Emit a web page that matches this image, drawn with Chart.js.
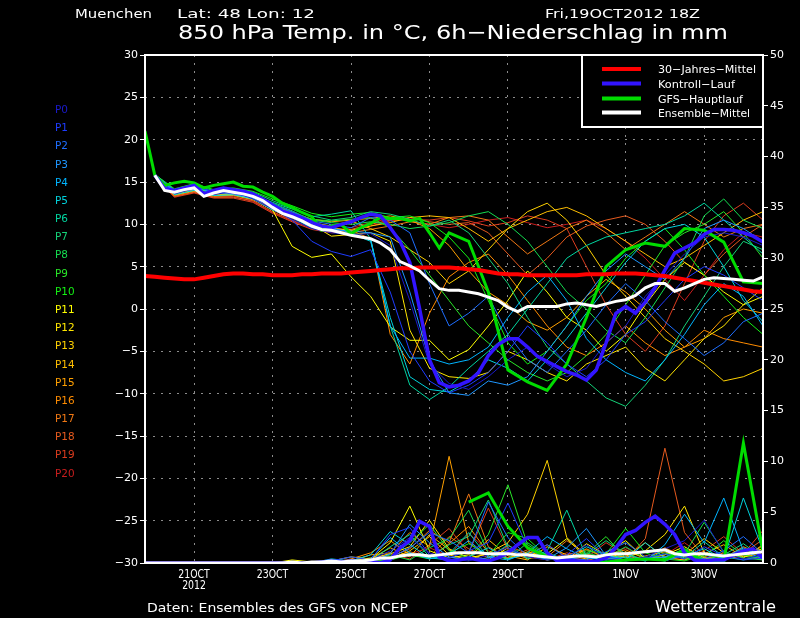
<!DOCTYPE html>
<html>
<head>
<meta charset="utf-8">
<script src="https://cdn.jsdelivr.net/npm/chart.js@4.4.1/dist/chart.umd.min.js"></script>
<style>
  html, body { margin: 0; padding: 0; background: #000; overflow: hidden; }
  canvas { display: block; }
</style>
</head>
<body>
<canvas id="chart" width="800" height="618"></canvas>
<script>
// forecast hours from 19OCT2012 18Z, 6-hourly
const hours = [0, 6, 12, 18, 24, 30, 36, 42, 48, 54, 60, 66, 72, 78, 84, 90,
  96, 102, 108, 114, 120, 126, 132, 138, 144, 150, 156, 162, 168, 174, 180, 186,
  192, 198, 204, 210, 216, 222, 228, 234, 240, 246, 252, 258, 264, 270, 276, 282,
  288, 294, 300, 306, 312, 318, 324, 330, 336, 342, 348, 354, 360, 366, 372, 378];
const memberHours = [6, 18, 30, 42, 54, 66, 78, 90, 102, 114, 126, 138, 150, 162, 174, 186,
  198, 210, 222, 234, 246, 258, 270, 282, 294, 306, 318, 330, 342, 354, 366, 378];

const xTickHours = [30, 78, 126, 174, 222, 294, 342];
const xTickLabels = [['21OCT', '2012'], ['23OCT'], ['25OCT'], ['27OCT'], ['29OCT'], ['1NOV'], ['3NOV']];

// 850 hPa temperature, deg C
const climMean = [3.9, 3.8, 3.7, 3.6, 3.5, 3.5, 3.7, 3.9,
  4.1, 4.2, 4.2, 4.1, 4.1, 4.0, 4.0, 4.0,
  4.1, 4.1, 4.2, 4.2, 4.2, 4.3, 4.4, 4.5,
  4.6, 4.7, 4.8, 4.8, 4.9, 4.9, 4.9, 4.9,
  4.8, 4.7, 4.6, 4.4, 4.2, 4.1, 4.1, 4.0,
  4.0, 4.0, 4.0, 4.0, 4.0, 4.1, 4.1, 4.1,
  4.2, 4.2, 4.2, 4.1, 4.0, 3.9, 3.7, 3.5,
  3.3, 3.1, 2.9, 2.7, 2.5, 2.3, 2.1, 2.0];
const ensMeanTemp = [null, 15.8, 14.0, 13.8, 14.1, 14.3, 13.3, 13.7,
  14.0, 13.8, 13.6, 13.3, 12.8, 12.0, 11.3, 10.9,
  10.4, 9.8, 9.4, 9.3, 9.0, 8.7, 8.5, 8.3,
  7.8, 7.0, 5.6, 5.1, 4.5, 3.4, 2.4, 2.2,
  2.2, 2.0, 1.8, 1.4, 1.0, 0.2, -0.3, 0.3,
  0.3, 0.3, 0.3, 0.6, 0.7, 0.5, 0.3, 0.6,
  0.9, 1.1, 1.6, 2.5, 3.0, 3.0, 2.1, 2.5,
  3.0, 3.5, 3.7, 3.6, 3.5, 3.4, 3.3, 3.8];
const controlTemp = [null, 15.8, 14.2, 14.0, 14.3, 14.6, 13.6, 14.0,
  14.3, 14.1, 13.9, 13.6, 13.0, 12.3, 11.6, 11.2,
  10.8, 10.2, 9.8, 9.6, 10.0, 10.3, 10.8, 11.2,
  11.0, 9.6, 8.0, 5.5, 0.0, -6.0, -8.7, -9.2,
  -9.0, -8.5, -7.5, -5.5, -4.2, -3.5, -3.5, -4.5,
  -5.6, -6.2, -6.8, -7.4, -7.8, -8.4, -7.2, -4.0,
  -0.5, 0.3, -0.5, 0.8, 2.5, 4.6, 6.6, 7.2,
  7.8, 8.8, 9.4, 9.4, 9.3, 9.0, 8.6, 7.9];
const gfsTemp = [21.0, 15.8, 14.6, 14.9, 15.1, 14.9, 14.3, 14.6,
  14.8, 15.0, 14.5, 14.4, 13.8, 13.3, 12.5, 12.0,
  11.4, 10.9, 9.3, 9.8, 10.0, 8.9, 9.6, 10.1,
  10.8, 10.7, 10.7, 10.4, 10.7, 9.0, 7.2, 9.0,
  null, 8.0, null, 2.0, null, -7.2, null, -8.6,
  null, -9.6, null, -6.5, null, -1.0, null, 5.0,
  null, 7.0, null, 7.8, null, 7.4, null, 9.5,
  null, 9.3, null, 7.9, null, 3.2, null, 3.0];

// 6h precipitation, mm
const ensMeanPrecip = [0, 0, 0, 0, 0, 0, 0, 0,
  0, 0, 0, 0, 0, 0, 0, 0.1,
  0, 0.1, 0.1, 0.2, 0.1, 0.2, 0.2, 0.3,
  0.5, 0.5, 0.7, 0.8, 0.8, 0.7, 0.8, 0.9,
  1.0, 1.0, 1.0, 0.9, 0.9, 0.9, 0.8, 0.8,
  0.7, 0.6, 0.5, 0.6, 0.7, 0.7, 0.6, 0.8,
  0.9, 0.9, 1.0, 1.1, 1.2, 1.3, 0.9, 0.8,
  0.9, 0.9, 0.8, 0.7, 0.8, 0.9, 1.0, 1.1];
const controlPrecip = [0, 0, 0, 0, 0, 0, 0, 0,
  0, 0, 0, 0, 0, 0, 0, 0,
  0, 0, 0.1, 0.2, 0.1, 0.2, 0.1, 0.1,
  0, 0.3, 1.5, 2.2, 4.1, 3.6, 0.6, 0.2,
  0.3, 0.5, 0.3, 0.2, 0.5, 1.0, 1.8, 2.5,
  2.5, 1.0, 0.2, 0.3, 0.2, 0.1, 0.2, 0.5,
  1.5, 2.8, 3.2, 4.0, 4.6, 3.8, 2.8, 1.0,
  0.3, 0.2, 0.3, 0.3, 0.8, 1.2, 1.4, 0.5];
const gfsPrecip = [null, null, null, null, null, null, null, null,
  null, null, null, null, null, null, null, null,
  null, null, null, null, null, null, null, null,
  null, null, null, null, null, null, null, null,
  null, 6.0, null, 6.9, null, 3.6, null, 1.5,
  null, 0.6, null, 0.1, null, 0.0, null, 0.1,
  null, 0.3, null, 0.4, null, 0.3, null, 1.3,
  null, 0.1, null, 0.1, null, 11.8, null, 1.1];

// ensemble members P0..P20, temperature
const tempP0 = [15.6, 13.6, 14.2, 13.5, 13.9, 13.0, 11.8, 10.6, 9.5, 9.0, 8.8, 8.9, 7.5, 1.0, -6.5, -8.8,
  -9.5, -8.0, -6.0, -4.5, -6.5, -8.0, -7.0, -4.0, -2.0, 1.5, 4.0, 6.5, 8.5, 9.0, 8.5, 7.5];
const tempP1 = [15.9, 13.7, 14.4, 13.9, 13.6, 13.2, 11.9, 10.5, 8.0, 6.8, 6.2, 7.0, 2.0, -5.0, -8.5, -9.9,
  -9.0, -7.5, -5.0, -2.0, -4.0, -6.5, -8.0, -6.0, -3.0, -1.5, 1.0, 3.5, 5.0, 4.0, 2.5, 1.0];
const tempP2 = [15.8, 14.0, 14.6, 13.8, 14.0, 13.6, 12.4, 11.5, 10.4, 10.0, 9.6, 10.8, 10.5, 9.0, 3.0, -2.0,
  -0.5, 1.5, -3.0, -6.0, -7.5, -5.0, -2.5, 0.5, 3.0, 1.0, -1.5, -3.5, -5.5, -4.0, -1.5, -0.5];
const tempP3 = [15.7, 13.9, 14.1, 13.6, 13.8, 13.4, 12.1, 11.0, 9.9, 9.4, 9.2, 9.0, 8.5, 2.0, -6.0, -9.9,
  -10.2, -8.5, -9.0, -8.0, -5.0, -2.0, 1.5, 4.5, 6.5, 5.0, 3.5, 6.0, 9.5, 10.5, 9.5, 8.0];
const tempP4 = [15.9, 13.8, 14.5, 13.7, 13.7, 13.1, 12.2, 11.2, 10.2, 9.6, 9.0, 8.2, -2.0, -5.8, -5.8, -6.5,
  -6.0, -4.5, -1.0, 2.0, 4.0, 1.0, -3.5, -6.0, -7.5, -8.5, -6.0, -3.0, 0.5, 3.0, 1.5, -2.0];
const tempP5 = [15.8, 13.5, 14.0, 13.4, 13.5, 13.0, 11.7, 10.8, 9.6, 9.2, 8.9, 8.0, -1.0, -8.0, -9.5, -9.8,
  -8.5, -6.0, -7.0, -8.5, -6.0, -3.5, -0.5, 2.5, 5.5, 8.0, 9.5, 10.0, 8.5, 5.0, 1.0, -1.5];
const tempP6 = [15.7, 13.6, 14.3, 13.6, 13.9, 13.5, 12.6, 11.8, 10.9, 11.2, 11.6, 8.3, -2.0, -9.0, -10.7, -9.2,
  -7.0, -5.0, -3.0, 0.0, 3.0, 6.0, 7.5, 8.5, 9.0, 9.5, 10.0, 11.0, 12.5, 10.5, 8.5, 6.5];
const tempP7 = [15.9, 14.1, 14.6, 14.0, 14.2, 13.8, 12.8, 11.9, 11.0, 10.5, 10.8, 11.5, 11.2, 10.6, 9.8, 10.5,
  9.0, 6.0, 3.0, -1.0, -4.5, -6.5, -8.5, -10.5, -11.5, -9.0, -6.0, -2.0, 1.5, 5.0, 8.0, 7.0];
const tempP8 = [15.8, 13.9, 14.4, 13.8, 14.0, 13.5, 12.5, 11.6, 10.5, 10.2, 10.0, 10.3, 10.0, 9.5, 9.8, 10.2,
  11.0, 11.5, 10.0, 8.0, 5.0, 2.0, 0.0, -2.5, -4.0, -1.0, 2.5, 6.0, 11.0, 13.0, 10.5, 9.5];
const tempP9 = [15.9, 14.0, 14.3, 13.9, 14.1, 13.6, 12.3, 11.4, 10.6, 10.4, 10.6, 10.8, 9.6, 7.0, 4.0, 1.0,
  -2.0, -4.0, -6.0, -7.5, -8.5, -7.5, -5.5, -3.0, 0.5, 4.0, 7.5, 9.0, 10.0, 11.5, 9.0, 6.0];
const tempP10 = [15.9, 14.2, 14.8, 14.1, 14.3, 13.9, 13.0, 12.2, 11.3, 10.9, 11.2, 11.4, 10.8, 11.0, 10.2, 8.5,
  6.0, 1.0, -4.0, -6.5, -5.0, -2.0, 1.0, 3.0, 6.0, 8.0, 9.5, 7.0, 4.0, 1.5, -1.0, -3.0];
const tempP11 = [15.6, 13.5, 14.0, 13.4, 13.5, 13.0, 11.7, 7.4, 6.1, 6.5, 3.8, 1.5, -2.1, -3.7, -3.7, -6.0,
  -4.8, -2.0, 1.0, 4.5, 2.0, -1.0, -2.5, -5.0, -3.0, 0.5, 3.5, 5.5, 4.0, 2.0, 0.5, 1.5];
const tempP12 = [15.7, 13.7, 14.2, 13.6, 13.6, 13.2, 12.0, 11.2, 10.0, 8.6, 8.8, 9.0, 8.0, -2.5, -7.0, -8.0,
  -8.2, -7.5, -5.0, -6.0, -7.5, -8.5, -6.5, -5.5, -4.5, -7.0, -8.5, -6.0, -3.5, -2.0, 0.5, 2.5];
const tempP13 = [15.8, 13.8, 14.4, 13.7, 13.8, 13.4, 12.2, 11.3, 10.2, 9.8, 10.4, 9.5, 8.5, 7.0, 5.5, 3.0,
  4.5, 7.0, 9.5, 11.5, 12.5, 10.5, 7.5, 4.0, 1.5, -1.0, -3.5, -5.0, -6.5, -8.5, -8.0, -7.0];
const tempP14 = [15.7, 13.6, 14.1, 13.5, 13.6, 13.1, 11.9, 11.0, 10.1, 9.5, 9.3, 9.8, 10.2, 10.8, 11.0, 10.8,
  9.5, 8.0, 9.5, 10.5, 11.5, 12.0, 11.0, 9.5, 8.0, 6.5, 5.0, 6.0, 7.5, 9.0, 10.5, 11.5];
const tempP15 = [15.8, 13.7, 14.3, 13.6, 13.7, 13.3, 12.2, 11.4, 10.6, 10.3, 10.5, 10.7, 11.0, 10.5, 9.5, 7.5,
  4.5, 2.0, 0.5, -1.5, -2.5, -1.0, 1.5, 3.5, 2.0, 0.0, -2.5, -4.5, -3.5, -1.0, 0.0, -0.5];
const tempP16 = [15.6, 13.4, 13.9, 13.3, 13.4, 12.9, 11.8, 11.0, 10.0, 9.6, 9.3, 8.3, -3.0, -6.5, -0.5, 3.8,
  5.5, 6.5, 4.0, 1.0, -2.0, -4.5, -5.5, -4.0, -2.0, -4.0, -5.5, -4.5, -2.5, -3.5, -4.0, -4.5];
const tempP17 = [15.7, 13.5, 14.0, 13.4, 13.5, 13.0, 11.7, 10.7, 9.8, 9.2, 9.0, 9.4, 9.8, 10.3, 10.0, 10.8,
  11.0, 10.5, 8.5, 6.5, 8.0, 9.5, 10.5, 9.0, 7.0, 8.5, 10.0, 11.5, 10.0, 8.5, 9.5, 10.0];
const tempP18 = [15.6, 13.3, 13.8, 13.2, 13.2, 12.8, 11.5, 10.5, 9.6, 9.2, 9.4, 10.0, 10.5, 10.8, 10.3, 10.0,
  10.2, 9.0, 6.5, 4.0, 6.0, 8.5, 9.8, 10.5, 11.0, 10.0, 8.0, 5.5, 4.0, 6.5, 8.5, 10.0];
const tempP19 = [15.5, 13.2, 13.7, 13.1, 13.1, 12.6, 11.3, 10.3, 9.4, 9.0, 9.2, 9.8, 10.4, 10.6, 10.5, 10.8,
  10.4, 9.8, 10.2, 11.0, 10.5, 9.5, 5.0, 0.5, -3.0, -5.0, -2.0, 3.0, 8.0, 11.0, 12.5, 10.5];
const tempP20 = [15.6, 13.3, 13.8, 13.2, 13.3, 12.7, 11.4, 10.4, 9.5, 9.1, 9.6, 10.2, 10.7, 10.4, 10.0, 9.6,
  10.0, 10.5, 10.8, 10.2, 9.6, 10.0, 10.5, 9.5, 8.0, 6.0, 3.5, 1.0, 4.0, 7.0, 9.0, 8.5];

// ensemble members P0..P20, precipitation
const precP0 = [0, 0, 0, 0, 0, 0, 0, 0, 0, 0, 0, 0.3, 1.2, 2.5, 1.0, 0.4,
  0.2, 0.8, 1.5, 0.6, 0.3, 0.5, 1.8, 0.4, 0.2, 0.6, 1.4, 2.2, 4.2, 1.0, 0.4, 0.8];
const precP1 = [0, 0, 0, 0, 0, 0, 0, 0, 0, 0.2, 0.6, 0.3, 2.8, 3.5, 0.8, 0.5,
  1.2, 2.0, 5.9, 1.5, 0.4, 0.8, 2.4, 0.6, 0.3, 0.5, 0.9, 0.4, 1.6, 0.7, 0.3, 0.5];
const precP2 = [0, 0, 0, 0, 0, 0, 0, 0, 0, 0, 0, 0.2, 0.5, 1.5, 3.0, 2.2,
  1.0, 6.0, 2.5, 0.7, 1.8, 0.5, 0.3, 1.1, 2.0, 0.6, 0.2, 0.8, 0.4, 1.2, 2.6, 0.9];
const precP3 = [0, 0, 0, 0, 0, 0, 0, 0, 0, 0, 0.3, 0.1, 0.9, 3.8, 2.0, 0.6,
  0.3, 0.5, 1.2, 0.8, 0.4, 1.5, 3.4, 0.7, 0.2, 0.4, 0.6, 1.0, 0.3, 0.5, 1.5, 0.6];
const precP4 = [0, 0, 0, 0, 0, 0, 0, 0, 0, 0.3, 0.1, 0.4, 2.5, 1.0, 0.4, 0.8,
  2.2, 0.6, 0.3, 1.0, 2.6, 1.4, 0.5, 0.3, 0.6, 0.2, 1.8, 4.8, 2.0, 6.4, 1.2, 0.4];
const precP5 = [0, 0, 0, 0, 0, 0, 0, 0, 0, 0.4, 0.2, 0.8, 3.1, 1.8, 0.5, 0.3,
  0.6, 1.5, 0.4, 0.9, 0.3, 0.6, 1.6, 0.8, 0.3, 2.0, 0.5, 0.7, 1.4, 0.4, 6.4, 1.2];
const precP6 = [0, 0, 0, 0, 0, 0, 0, 0, 0, 0, 0, 0.2, 1.6, 2.8, 0.6, 0.9,
  3.0, 0.5, 1.8, 0.4, 1.2, 5.2, 0.6, 0.3, 0.9, 0.2, 1.3, 0.5, 2.1, 0.6, 0.3, 0.8];
const precP7 = [0, 0, 0, 0, 0, 0, 0, 0, 0, 0, 0, 0.1, 0.3, 1.0, 0.5, 1.8,
  2.6, 6.2, 1.5, 0.5, 1.0, 0.3, 0.8, 2.2, 0.9, 0.3, 0.6, 1.4, 0.3, 0.8, 1.9, 0.5];
const precP8 = [0, 0, 0, 0, 0, 0, 0, 0, 0, 0, 0, 0.2, 0.8, 0.3, 1.5, 2.4,
  5.2, 1.0, 0.4, 2.0, 0.7, 0.3, 1.0, 0.5, 1.6, 0.4, 0.2, 0.9, 4.0, 1.1, 0.5, 0.3];
const precP9 = [0, 0, 0, 0, 0, 0, 0, 0, 0, 0, 0.1, 0.3, 0.6, 2.0, 3.8, 1.2,
  0.5, 2.8, 7.7, 1.8, 0.6, 0.4, 0.9, 2.6, 0.5, 0.3, 1.0, 0.4, 0.6, 2.2, 0.8, 0.4];
const precP10 = [0, 0, 0, 0, 0, 0, 0, 0, 0, 0, 0, 0.1, 0.3, 0.8, 0.4, 1.0,
  1.9, 0.7, 3.0, 2.4, 0.6, 0.3, 1.2, 0.9, 3.4, 1.0, 0.4, 0.2, 0.8, 0.5, 1.4, 0.6];
const precP11 = [0, 0, 0, 0, 0, 0, 0, 0.3, 0.1, 0.2, 0.6, 0.4, 2.0, 5.6, 1.2, 0.5,
  0.8, 0.3, 1.5, 0.6, 0.9, 2.4, 0.5, 1.0, 2.2, 0.4, 0.8, 1.6, 0.5, 0.3, 0.9, 1.4];
const precP12 = [0, 0, 0, 0, 0, 0, 0, 0, 0, 0.1, 0.2, 0.5, 0.9, 1.6, 4.2, 1.4,
  0.5, 0.9, 0.4, 1.1, 0.6, 0.3, 1.9, 0.8, 0.5, 1.2, 2.8, 5.6, 1.0, 0.4, 0.7, 0.3];
const precP13 = [0, 0, 0, 0, 0, 0, 0, 0, 0, 0, 0.1, 0.2, 0.4, 1.2, 2.6, 0.8,
  0.3, 1.0, 2.0, 4.8, 10.1, 2.5, 0.7, 0.4, 1.1, 0.6, 0.3, 0.8, 2.4, 1.0, 0.5, 1.8];
const precP14 = [0, 0, 0, 0, 0, 0, 0, 0, 0, 0, 0, 0.4, 1.5, 0.6, 2.8, 1.3,
  0.5, 2.3, 0.7, 0.3, 1.6, 0.8, 0.4, 1.0, 0.6, 2.0, 0.5, 0.3, 0.9, 1.8, 0.6, 1.1];
const precP15 = [0, 0, 0, 0, 0, 0, 0, 0, 0, 0, 0.2, 0.8, 1.0, 3.0, 1.6, 10.5,
  2.0, 0.6, 1.2, 0.4, 0.8, 0.3, 1.4, 0.5, 0.2, 0.7, 1.1, 0.4, 0.6, 0.3, 0.9, 0.5];
const precP16 = [0, 0, 0, 0, 0, 0, 0, 0, 0, 0, 0.4, 1.0, 2.2, 0.8, 0.5, 1.9,
  3.6, 1.0, 0.4, 0.9, 0.3, 0.6, 0.2, 0.8, 1.3, 0.4, 0.6, 1.2, 0.3, 0.5, 1.6, 0.8];
const precP17 = [0, 0, 0, 0, 0, 0, 0, 0, 0, 0, 0, 0.3, 0.6, 1.4, 3.2, 2.0,
  6.8, 1.6, 0.5, 1.3, 0.6, 2.2, 0.9, 0.4, 0.7, 0.3, 1.5, 0.6, 0.4, 1.0, 0.5, 1.7];
const precP18 = [0, 0, 0, 0, 0, 0, 0, 0, 0, 0, 0, 0.2, 0.5, 1.1, 0.6, 2.6,
  1.4, 0.5, 1.7, 0.9, 0.4, 0.8, 1.3, 0.5, 0.3, 2.4, 11.3, 3.0, 0.6, 0.4, 1.0, 2.3];
const precP19 = [0, 0, 0, 0, 0, 0, 0, 0, 0, 0, 0.1, 0.4, 0.9, 0.4, 1.8, 3.4,
  1.0, 5.4, 1.3, 0.6, 0.3, 1.0, 0.5, 2.0, 0.8, 0.4, 0.6, 0.3, 1.2, 2.6, 0.9, 3.2];
const precP20 = [0, 0, 0, 0, 0, 0, 0, 0, 0, 0, 0, 0.2, 0.3, 0.9, 1.5, 0.7,
  2.9, 1.2, 0.5, 0.8, 1.8, 0.6, 0.3, 0.7, 1.5, 0.5, 0.8, 2.0, 0.6, 0.3, 1.2, 0.6];

const memberNames = ['P0', 'P1', 'P2', 'P3', 'P4', 'P5', 'P6', 'P7', 'P8', 'P9', 'P10',
  'P11', 'P12', 'P13', 'P14', 'P15', 'P16', 'P17', 'P18', 'P19', 'P20'];
const memberColors = ['#1a1acc', '#1e3cff', '#1e6eff', '#1e96ff', '#00b4ff', '#00d2dc', '#00d6a0',
  '#14d278', '#14dc50', '#28e628', '#14f014', '#ffff00', '#ffe600', '#ffd200', '#ffbe00',
  '#ffa000', '#ff8c00', '#f07814', '#e65a1e', '#dc3c1e', '#c81e1e'];
const memberTemps = [tempP0, tempP1, tempP2, tempP3, tempP4, tempP5, tempP6, tempP7, tempP8, tempP9, tempP10,
  tempP11, tempP12, tempP13, tempP14, tempP15, tempP16, tempP17, tempP18, tempP19, tempP20];
const memberPrecs = [precP0, precP1, precP2, precP3, precP4, precP5, precP6, precP7, precP8, precP9, precP10,
  precP11, precP12, precP13, precP14, precP15, precP16, precP17, precP18, precP19, precP20];

const legendNames = ['30\u2212Jahres\u2212Mittel', 'Kontroll\u2212Lauf', 'GFS\u2212Hauptlauf', 'Ensemble\u2212Mittel'];
const legendColors = ['#ff0000', '#3214ff', '#00dc00', '#ffffff'];

const FONT = '"DejaVu Sans"';
Chart.defaults.font.family = FONT;
Chart.defaults.color = '#ffffff';

function pts(xs, ys) {
  return xs.map((x, i) => ({ x: x, y: ys[i] }));
}

// draw text squeezed/stretched horizontally to a given width
function drawText(ctx, text, x, y, size, width, align) {
  ctx.font = size + 'px ' + FONT;
  const w = ctx.measureText(text).width;
  const sx = width ? width / w : 1;
  let x0 = x;
  if (align === 'center') x0 = x - (w * sx) / 2;
  ctx.save();
  ctx.translate(x0, y);
  ctx.scale(sx, 1);
  ctx.textAlign = 'left';
  ctx.textBaseline = 'alphabetic';
  ctx.fillText(text, 0, 0);
  ctx.restore();
}

const datasets = [];
// key lines first so they sit on top
datasets.push({ label: 'Ensemble-Mittel', data: pts(hours, ensMeanTemp), yAxisID: 'y', borderColor: '#ffffff', borderWidth: 3, order: 0 });
datasets.push({ label: 'Ensemble-Mittel NS', data: pts(hours, ensMeanPrecip), yAxisID: 'y2', borderColor: '#ffffff', borderWidth: 3, order: 0 });
datasets.push({ label: '30-Jahres-Mittel', data: pts(hours, climMean), yAxisID: 'y', borderColor: '#ff0000', borderWidth: 4, order: 1 });
datasets.push({ label: 'Kontroll-Lauf', data: pts(hours, controlTemp), yAxisID: 'y', borderColor: '#3214ff', borderWidth: 3.5, order: 2 });
datasets.push({ label: 'Kontroll-Lauf NS', data: pts(hours, controlPrecip), yAxisID: 'y2', borderColor: '#3214ff', borderWidth: 3.5, order: 2 });
datasets.push({ label: 'GFS-Hauptlauf', data: pts(hours, gfsTemp), yAxisID: 'y', borderColor: '#00dc00', borderWidth: 3, spanGaps: true, order: 3 });
datasets.push({ label: 'GFS-Hauptlauf NS', data: pts(hours, gfsPrecip), yAxisID: 'y2', borderColor: '#00dc00', borderWidth: 3, spanGaps: true, order: 3 });
memberNames.forEach((name, i) => {
  datasets.push({ label: name, data: pts(memberHours, memberTemps[i]), yAxisID: 'y', borderColor: memberColors[i], borderWidth: 1, order: 10 });
  datasets.push({ label: name + ' NS', data: pts(memberHours, memberPrecs[i]), yAxisID: 'y2', borderColor: memberColors[i], borderWidth: 1, order: 10 });
});

const decorations = {
  id: 'decorations',
  afterDatasetsDraw(chart) {
    const ctx = chart.ctx;
    const a = chart.chartArea;
    ctx.save();
    ctx.strokeStyle = '#ffffff';
    ctx.lineWidth = 2;
    ctx.strokeRect(a.left, a.top, a.right - a.left, a.bottom - a.top);

    // legend box in upper right corner
    const bx = 582, by = a.top, bw = a.right - 582, bh = 72;
    ctx.fillStyle = '#000000';
    ctx.fillRect(bx, by, bw, bh);
    ctx.strokeRect(bx, by, bw, bh);
    const rowY = [69, 83.5, 98.5, 112.5];
    const textW = [98, 77, 85, 92];
    legendNames.forEach((t, i) => {
      ctx.strokeStyle = legendColors[i];
      ctx.lineWidth = 4;
      ctx.beginPath();
      ctx.moveTo(602, rowY[i]);
      ctx.lineTo(641, rowY[i]);
      ctx.stroke();
      ctx.fillStyle = '#ffffff';
      drawText(ctx, t, 658, rowY[i] + 4, 11, textW[i]);
    });
    ctx.restore();
  },
  afterDraw(chart) {
    const ctx = chart.ctx;
    const xs = chart.scales.x;
    ctx.save();
    ctx.fillStyle = '#ffffff';
    drawText(ctx, 'Muenchen', 75, 18, 13, 77);
    drawText(ctx, 'Lat: 48 Lon: 12', 177, 18, 13, 138);
    drawText(ctx, 'Fri,19OCT2012 18Z', 545, 18, 13, 155);
    drawText(ctx, '850 hPa Temp. in \u00b0C, 6h\u2212Niederschlag in mm', 178, 39, 20, 550);

    // x tick labels
    xTickHours.forEach((h, i) => {
      const px = xs.getPixelForValue(h);
      xTickLabels[i].forEach((line, j) => {
        ctx.font = '12px ' + FONT;
        const w = ctx.measureText(line).width * 0.78;
        drawText(ctx, line, px, 578 + j * 11, 12, w, 'center');
      });
    });

    // member labels on the left
    memberNames.forEach((name, i) => {
      ctx.fillStyle = memberColors[i];
      ctx.font = '11px ' + FONT;
      const w = ctx.measureText(name).width * 0.95;
      drawText(ctx, name, 55, 113 + i * 18.18, 11, w);
    });

    ctx.fillStyle = '#ffffff';
    drawText(ctx, 'Daten: Ensembles des GFS von NCEP', 147, 612, 13, 261);
    drawText(ctx, 'Wetterzentrale', 655, 612, 15, 121);
    ctx.restore();
  }
};

new Chart(document.getElementById('chart'), {
  type: 'line',
  data: { datasets: datasets },
  options: {
    responsive: false,
    animation: false,
    devicePixelRatio: 1,
    layout: { padding: { top: 55, left: 0, right: 0, bottom: 0 } },
    elements: { point: { radius: 0 }, line: { tension: 0 } },
    plugins: { legend: { display: false }, tooltip: { enabled: false }, title: { display: false } },
    scales: {
      x: {
        type: 'linear',
        min: 0,
        max: 378,
        afterBuildTicks: (axis) => { axis.ticks = xTickHours.map(v => ({ value: v })); },
        afterFit: (scale) => { scale.height = 55; },
        ticks: { display: false },
        grid: { color: '#8c8c8c', lineWidth: 1, drawTicks: false },
        border: { display: false, dash: [2, 6] }
      },
      y: {
        position: 'left',
        min: -30,
        max: 30,
        afterFit: (scale) => { scale.width = 145; },
        ticks: {
          stepSize: 5,
          color: '#ffffff',
          padding: 2,
          font: { size: 11 },
          callback: (v) => String(v).replace('-', '\u2212')
        },
        grid: { color: '#8c8c8c', lineWidth: 1, tickColor: '#ffffff', tickLength: 5, tickWidth: 1, tickBorderDash: [] },
        border: { display: false, dash: [2, 6] }
      },
      y2: {
        position: 'right',
        min: 0,
        max: 50,
        afterFit: (scale) => { scale.width = 37; },
        ticks: { stepSize: 5, color: '#ffffff', padding: 2, font: { size: 11 } },
        grid: { drawOnChartArea: false, tickColor: '#ffffff', tickLength: 5, tickWidth: 1 },
        border: { display: false }
      }
    }
  },
  plugins: [decorations]
});
</script>
</body>
</html>
